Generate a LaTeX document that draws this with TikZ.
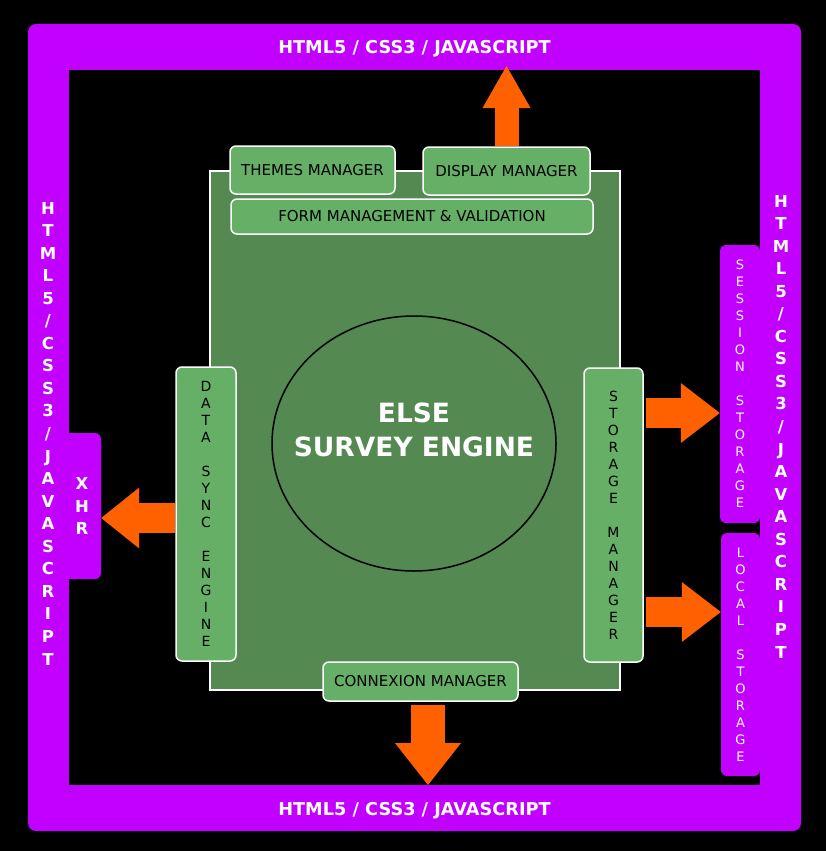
\documentclass[tikz,border=0pt]{standalone}
\usepackage{fontspec}
\setmainfont{DejaVu Sans}
\usetikzlibrary{shapes.geometric, arrows.meta, positioning}

\definecolor{framepurple}{RGB}{194,0,255}
\definecolor{enginegreen}{RGB}{84,137,82}
\definecolor{boxgreen}{RGB}{102,175,102}
\definecolor{arroworange}{RGB}{255,96,0}

\begin{document}
\begin{tikzpicture}[x=1pt, y=-1pt]

    % Define style for boxes
    \tikzstyle{partbox} = [rectangle, rounded corners=6pt, draw=white, line width=1.5pt, fill=boxgreen, inner sep=0pt, text centered, font=\fontsize{15}{17}\selectfont]
    \tikzstyle{vpartbox} = [partbox, align=center, font=\fontsize{14}{17}\selectfont]
    \tikzstyle{storebox} = [rectangle, rounded corners=6pt, fill=framepurple, text=white, inner sep=0pt, align=center, font=\fontsize{13}{17}\selectfont]
    \tikzstyle{barlabel} = [text=white, inner sep=0pt, font=\fontsize{17.7}{20}\selectfont\bfseries]
    \tikzstyle{vbarlabel} = [text=white, inner sep=0pt, align=center, font=\fontsize{16.5}{22.55}\selectfont\bfseries]
    \tikzstyle{flowarrow} = [arroworange, line cap=butt]

    % Frame
    \useasboundingbox (0,0) rectangle (826,851);
    \fill[black] (0,0) rectangle (826,851);
    \fill[framepurple, rounded corners=8pt] (28,24) rectangle (801,831);
    \fill[black] (69,70) rectangle (760,785);

    \node (toplabel) [barlabel, anchor=base] at (414.5,53.3) {HTML5 / CSS3 / JAVASCRIPT};
    \node (bottomlabel) [barlabel, anchor=base] at (414.5,815) {HTML5 / CSS3 / JAVASCRIPT};
    \node (leftlabel) [vbarlabel] at (48,433.5) {H\\T\\M\\L\\5\\/\\C\\S\\S\\3\\/\\J\\A\\V\\A\\S\\C\\R\\I\\P\\T};
    \node (rightlabel) [vbarlabel] at (781,426.5) {H\\T\\M\\L\\5\\/\\C\\S\\S\\3\\/\\J\\A\\V\\A\\S\\C\\R\\I\\P\\T};

    % Nodes
    \node (engine) [rectangle, draw=white, line width=1.2pt, fill=enginegreen, minimum width=410pt, minimum height=519pt] at (415,430.5) {};
    \node (core) [ellipse, draw=black, line width=1.5pt, minimum width=284pt, minimum height=255pt] at (414,443.5) {};
    \node (title) [text=white, align=center, inner sep=0pt, font=\fontsize{26.5}{34}\selectfont\bfseries] at ([yshift=13.5pt]core.center) {ELSE\\SURVEY ENGINE};

    \node (themes) [partbox, minimum width=165pt, minimum height=48pt] at (312.5,170) {THEMES MANAGER};
    \node (display) [partbox, minimum width=167pt, minimum height=48pt] at (506.5,171) {DISPLAY MANAGER};
    \node (form) [partbox, minimum width=362pt, minimum height=35pt] at (412,216.5) {FORM MANAGEMENT \& VALIDATION};
    \node (datasync) [vpartbox, minimum width=60pt, minimum height=294pt] at (206,514) {D\\A\\T\\A\\[17pt]S\\Y\\N\\C\\[17pt]E\\N\\G\\I\\N\\E};
    \node (storage) [vpartbox, minimum width=59pt, minimum height=294pt] at (613.5,515) {S\\T\\O\\R\\A\\G\\E\\[17pt]M\\A\\N\\A\\G\\E\\R};
    \node (connexion) [partbox, minimum width=195pt, minimum height=39pt] at (420.5,681.5) {CONNEXION MANAGER};

    \node (xhr) [storebox, minimum width=38pt, minimum height=146pt, font=\fontsize{16.5}{22.5}\selectfont\bfseries] at (82,506) {X\\H\\R};
    \node (session) [storebox, minimum width=40pt, minimum height=278pt] at (740,384) {S\\E\\S\\S\\I\\O\\N\\[17pt]S\\T\\O\\R\\A\\G\\E};
    \node (local) [storebox, minimum width=39pt, minimum height=243pt] at (740.5,654.5) {L\\O\\C\\A\\L\\[17pt]S\\T\\O\\R\\A\\G\\E};

    \coordinate (uptip) at (506.5,66);
    \coordinate (downtip) at (428,785);

    % Lines
    \draw[flowarrow, line width=24pt, -{Triangle[width=48pt, length=42pt, line width=0pt]}] (display.north) -- (uptip);
    \draw[flowarrow, line width=34pt, -{Triangle[width=66pt, length=42pt, line width=0pt]}] ([shift={(7.5pt,-3pt)}]connexion.south) -- (downtip);
    \draw[flowarrow, line width=30pt, -{Triangle[width=61pt, length=38pt, line width=0pt]}] ([yshift=-4pt]datasync.west) -- ([yshift=-4pt]datasync.west -| xhr.east);
    \draw[flowarrow, line width=30pt, -{Triangle[width=60pt, length=39pt, line width=0pt]}] ([shift={(2pt,102pt)}]storage.east) -- ([yshift=102pt]storage.east -| session.west);
    \draw[flowarrow, line width=30pt, -{Triangle[width=60pt, length=39pt, line width=0pt]}] ([shift={(2pt,-97pt)}]storage.east) -- ([yshift=-97pt]storage.east -| local.west);

\end{tikzpicture}
\end{document}
